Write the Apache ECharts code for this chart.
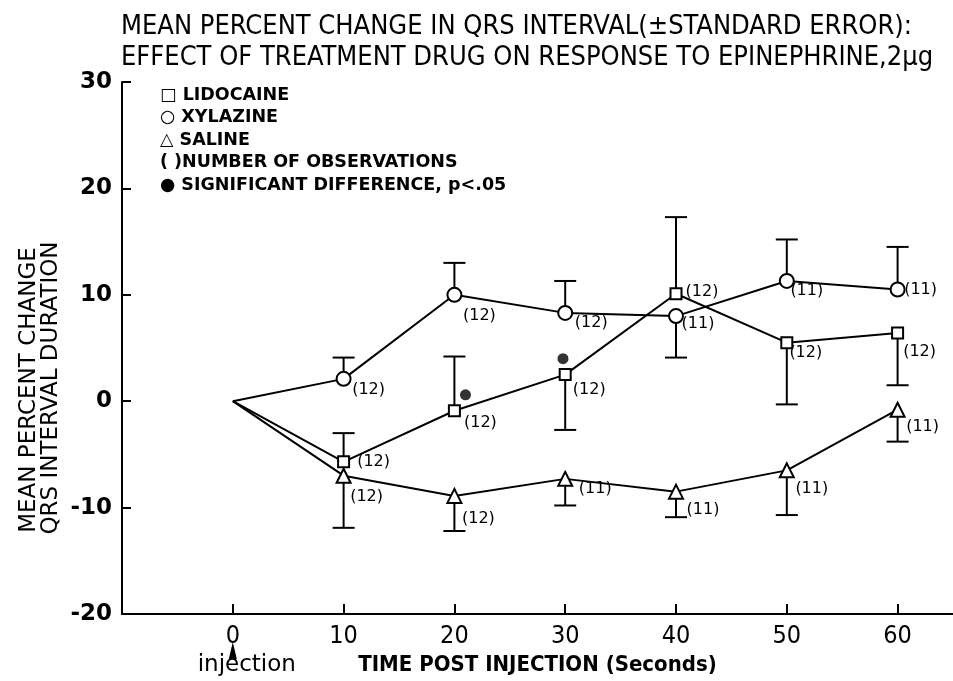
<!DOCTYPE html>
<html>
<head>
<meta charset="utf-8">
<script src="https://cdn.jsdelivr.net/npm/echarts@6/dist/echarts.min.js"></script>
<style>
html,body{margin:0;padding:0;background:#fff;}
#chart{width:953px;height:681px;}
</style>
</head>
<body>
<div id="chart"></div>
<script>
// ---- data ----
const times = [0, 10, 20, 30, 40, 50, 60];
const lidocaine    = [0, -5.7, -0.9, 2.5, 10.1, 5.5, 6.4];
const lidocaineErr = [null, -3.0, 4.2, -2.7, 17.3, -0.3, 1.5];   // whisker end value
const lidocaineN   = [null, 12, 12, 12, 12, 12, 12];
const xylazine     = [0, 2.1, 10.0, 8.3, 8.0, 11.3, 10.5];
const xylazineErr  = [null, 4.1, 13.0, 11.3, 4.1, 15.2, 14.5];
const xylazineN    = [null, 12, 12, 12, 11, 11, 11];
const saline       = [0, -7.0, -8.9, -7.3, -8.5, -6.5, -0.8];
const salineErr    = [null, -11.9, -12.2, -9.8, -10.9, -10.7, -3.8];
const salineN      = [null, 12, 12, 11, 11, 11, 11];
const sigTimes  = [21, 29.8];
const sigValues = [0.6, 4.0];
const yTicks = [-20, -10, 0, 10, 20, 30];
const xTicks = [0, 10, 20, 30, 40, 50, 60];
const legendLines = ['□ LIDOCAINE', '○ XYLAZINE', '△ SALINE', '( )NUMBER OF OBSERVATIONS', '● SIGNIFICANT DIFFERENCE, p<.05'];

// ---- styles (label offsets in px) ----
const lidoOff = [null, [30, 0], [26, 12], [24, 15], [26, -2], [19, 10], [22, 19]];
const xylaOff = [null, [25, 11], [25, 21], [26, 10], [22, 8], [20, 10], [23, 0]];
const saliOff = [null, [23, 21], [24, 23], [30, 10], [27, 18], [25, 18], [25, 17]];

const labelFont = {fontFamily: 'DejaVu Sans', fontSize: 16, color: '#000'};
const titleFont = 'Liberation Sans Narrow, DejaVu Sans Condensed, sans-serif';

function lineData(vals, ns, offs) {
  return times.map((t, i) => {
    const item = {value: [t, vals[i]]};
    if (ns[i] == null) {
      item.symbolSize = 0;
    } else {
      item.label = Object.assign({show: true, formatter: '(' + ns[i] + ')', offset: offs[i], position: 'inside'}, labelFont);
    }
    return item;
  });
}
function errData(vals, errs) {
  const out = [];
  times.forEach((t, i) => { if (errs[i] != null) out.push([t, vals[i], errs[i]]); });
  return out;
}
function renderErr(params, api) {
  const p = api.coord([api.value(0), api.value(1)]);
  const e = api.coord([api.value(0), api.value(2)]);
  const st = {stroke: '#000', lineWidth: 2};
  return {type: 'group', children: [
    {type: 'line', shape: {x1: p[0], y1: p[1], x2: e[0], y2: e[1]}, style: st},
    {type: 'line', shape: {x1: e[0] - 11, y1: e[1], x2: e[0] + 11, y2: e[1]}, style: st}
  ]};
}
function lineSeries(name, vals, ns, offs, symbol, size) {
  return {
    name: name, type: 'line', data: lineData(vals, ns, offs), z: 3,
    symbol: symbol, symbolSize: size, showAllSymbol: true,
    itemStyle: {color: '#fff', borderColor: '#000', borderWidth: 2},
    lineStyle: {color: '#000', width: 2},
    emphasis: {disabled: true}
  };
}
function errSeries(vals, errs) {
  return {type: 'custom', renderItem: renderErr, data: errData(vals, errs), z: 2, silent: true};
}

const chart = echarts.init(document.getElementById('chart'));
const option = {
  animation: false,
  backgroundColor: '#fff',
  grid: {left: 122, right: 0, top: 82, bottom: 64, containLabel: false},
  title: {
    text: 'MEAN PERCENT CHANGE IN QRS INTERVAL(±STANDARD ERROR):\nEFFECT OF TREATMENT DRUG ON RESPONSE TO EPINEPHRINE,2µg',
    left: 116, top: 6,
    textStyle: {fontFamily: titleFont, fontSize: 27, fontWeight: 'normal', color: '#000', lineHeight: 31}
  },
  xAxis: {
    type: 'value', min: -10, max: 65, interval: 10,
    name: 'TIME POST INJECTION (Seconds)', nameLocation: 'middle', nameGap: 40,
    nameTextStyle: {fontFamily: titleFont, fontSize: 22, fontWeight: 'bold', color: '#000'},
    axisLine: {onZero: false, lineStyle: {color: '#000', width: 2}},
    axisTick: {inside: true, length: 10, customValues: xTicks, lineStyle: {color: '#000', width: 2}},
    axisLabel: {
      fontFamily: titleFont, fontSize: 25, color: '#000', margin: 10, customValues: xTicks,
      formatter: v => xTicks.indexOf(v) >= 0 ? String(v) : ''
    },
    splitLine: {show: false}
  },
  yAxis: {
    type: 'value', min: -20, max: 30, interval: 10,
    axisLine: {onZero: false, lineStyle: {color: '#000', width: 2}},
    axisTick: {inside: true, length: 9, lineStyle: {color: '#000', width: 2}},
    axisLabel: {
      fontFamily: 'DejaVu Sans', fontSize: 23, fontWeight: 'bold', color: '#000', margin: 10,
      formatter: v => yTicks.indexOf(v) >= 0 ? (v < 0 ? '-' + Math.abs(v) : String(v)) : ''
    },
    splitLine: {show: false}
  },
  series: [
    errSeries(lidocaine, lidocaineErr),
    errSeries(xylazine, xylazineErr),
    errSeries(saline, salineErr),
    lineSeries('LIDOCAINE', lidocaine, lidocaineN, lidoOff, 'rect', 11),
    lineSeries('XYLAZINE', xylazine, xylazineN, xylaOff, 'circle', 14),
    lineSeries('SALINE', saline, salineN, saliOff, 'triangle', 14),
    {
      type: 'scatter', data: sigTimes.map((t, i) => [t, sigValues[i]]),
      symbol: 'circle', symbolSize: 11, itemStyle: {color: '#000'}, z: 4, silent: true
    }
  ]
};
chart.setOption(option);

// annotations: legend block, rotated y-axis title, injection arrow anchored to x = 0
const p0 = chart.convertToPixel({xAxisIndex: 0, yAxisIndex: 0}, [0, -20]);
chart.setOption({graphic: [
  {type: 'group', left: 160, top: 86, children: legendLines.map((s, i) => ({
    type: 'text', x: 0, y: i * 22.5,
    style: {text: s, font: 'bold 17.5px DejaVu Sans', fill: '#000'}
  }))},
  {type: 'text', x: 29, y: 390, rotation: Math.PI / 2,
    style: {text: 'MEAN PERCENT CHANGE', font: '23px DejaVu Sans', fill: '#000', textAlign: 'center', textVerticalAlign: 'middle'}},
  {type: 'text', x: 51, y: 388, rotation: Math.PI / 2,
    style: {text: 'QRS INTERVAL DURATION', font: '23px DejaVu Sans', fill: '#000', textAlign: 'center', textVerticalAlign: 'middle'}},
  {type: 'polygon', shape: {points: [[p0[0] - 4, p0[1] + 45], [p0[0] + 4, p0[1] + 45], [p0[0], p0[1] + 28]]}, style: {fill: '#000'}},
  {type: 'text', x: p0[0] + 14, y: p0[1] + 51, style: {text: 'injection', font: '23px DejaVu Sans', fill: '#000', textAlign: 'center', textVerticalAlign: 'middle'}}
]});
</script>
</body>
</html>
